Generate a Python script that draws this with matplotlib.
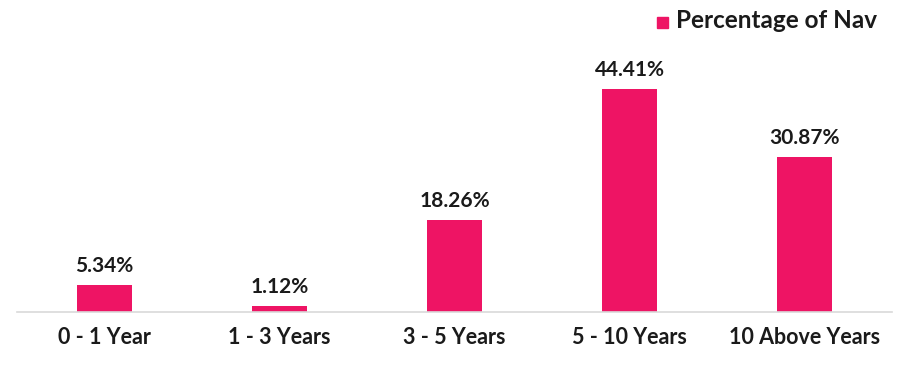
import matplotlib
matplotlib.use("Agg")
import matplotlib.pyplot as plt
from matplotlib.patches import Rectangle

categories = ["0 - 1 Year", "1 - 3 Years", "3 - 5 Years", "5 - 10 Years", "10 Above Years"]
values = [5.34, 1.12, 18.26, 44.41, 30.87]
series_name = "Percentage of Nav"
color = "#EE1464"

plt.rcParams['font.family'] = ['Lato', 'DejaVu Sans']

W, H = 917, 365
fig = plt.figure(figsize=(W / 100, H / 100), dpi=100)
# axes: x 17..892, y 20..312 (pixels from top)
ax = fig.add_axes([17 / W, (H - 312) / H, 875 / W, 292 / H])
x = list(range(len(categories)))
ax.bar(x, values, width=55 / 175, color=color, zorder=2)
ax.set_xlim(-0.5, len(categories) - 0.5)
ax.set_ylim(0, 292 / 5.02)
for xi, v in zip(x, values):
    ax.annotate(f"{v:.2f}%", (xi, v), xytext=(0, 6.5), textcoords="offset points",
                ha="center", va="bottom", fontsize=15, fontweight="bold", color="#1a1a1a")
ax.set_xticks(x)
ax.set_xticklabels(categories, fontsize=15.5, fontweight="bold", color="#1a1a1a")
ax.tick_params(axis="x", length=0, pad=11)
ax.set_yticks([])
for s in ["top", "right", "left"]:
    ax.spines[s].set_visible(False)
ax.spines["bottom"].set_color("#d9d9d9")
ax.spines["bottom"].set_linewidth(1.2)

# legend
fig.patches.append(Rectangle((657 / W, (H - 28) / H), 11 / W, 11 / H,
                             transform=fig.transFigure, color=color))
fig.text(676 / W, (H - 21) / H, series_name, fontsize=17.5, fontweight="bold",
         color="#1a1a1a", va="center", ha="left")

fig.savefig("out.png", dpi=100)
